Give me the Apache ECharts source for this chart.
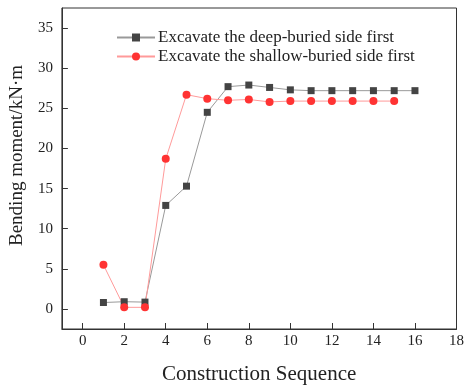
<!DOCTYPE html>
<html><head><meta charset="utf-8">
<script src="https://cdn.jsdelivr.net/npm/echarts@6/dist/echarts.min.js"></script>
<style>html,body{margin:0;padding:0;background:#fff}#c{width:467px;height:390px}</style>
</head><body><div id="c"></div>
<script>
const seqDeep = [1,2,3,4,5,6,7,8,9,10,11,12,13,14,15,16];
const deepVals = [0.8,0.9,0.85,12.9,15.3,24.5,27.7,27.9,27.6,27.3,27.2,27.2,27.2,27.2,27.2,27.2];
const seqShallow = [1,2,3,4,5,6,7,8,9,10,11,12,13,14,15];
const shallowVals = [5.5,0.2,0.2,18.7,26.7,26.2,26.0,26.1,25.8,25.9,25.9,25.9,25.9,25.9,25.9];
const xTicks = [0,2,4,6,8,10,12,14,16,18];
const yTicks = [0,5,10,15,20,25,30,35];
const names = ['Excavate the deep-buried side first','Excavate the shallow-buried side first'];

const font = 'Liberation Serif, Times New Roman, serif';
const chart = echarts.init(document.getElementById('c'));
chart.setOption({
  animation:false,
  grid:{left:59,right:9,top:8,bottom:61,show:true,borderColor:'#333',borderWidth:1,containLabel:false},
  legend:{
    left:111, top:24, orient:'vertical', itemGap:2, itemWidth:38, itemHeight:10,
    textStyle:{fontFamily:font,fontSize:17,color:'#222',padding:[0,0,0,-2]},
    data:names
  },
  xAxis:{
    type:'value', min:-1, max:18,
    name:'Construction Sequence', nameLocation:'middle', nameGap:35,
    nameTextStyle:{fontFamily:font,fontSize:21,color:'#222'},
    axisLine:{onZero:false,lineStyle:{color:'#333',width:1}},
    axisTick:{inside:true,length:6,customValues:xTicks,lineStyle:{color:'#333'}},
    axisLabel:{customValues:xTicks,fontFamily:font,fontSize:15,color:'#222',margin:5},
    splitLine:{show:false}
  },
  yAxis:{
    type:'value', min:-2.5, max:37.5,
    name:'Bending moment/kN·m', nameLocation:'middle', nameGap:11,
    nameTextStyle:{fontFamily:font,fontSize:19,color:'#222',padding:[0,0,0,26]},
    axisLine:{show:true,onZero:false,lineStyle:{color:'#333',width:1}},
    axisTick:{show:true,inside:true,length:6,customValues:yTicks,lineStyle:{color:'#333'}},
    axisLabel:{customValues:yTicks,fontFamily:font,fontSize:15,color:'#222',margin:9},
    splitLine:{show:false}
  },
  series:[
    {name:names[0],type:'line',data:seqDeep.map((x,i)=>[x,deepVals[i]]),
     symbol:'rect',symbolSize:7,itemStyle:{color:'#444'},lineStyle:{color:'#999',width:1}},
    {name:names[1],type:'line',data:seqShallow.map((x,i)=>[x,shallowVals[i]]),
     symbol:'circle',symbolSize:8,itemStyle:{color:'#ff3333'},lineStyle:{color:'#ff9a9a',width:1}}
  ]
});
</script></body></html>
